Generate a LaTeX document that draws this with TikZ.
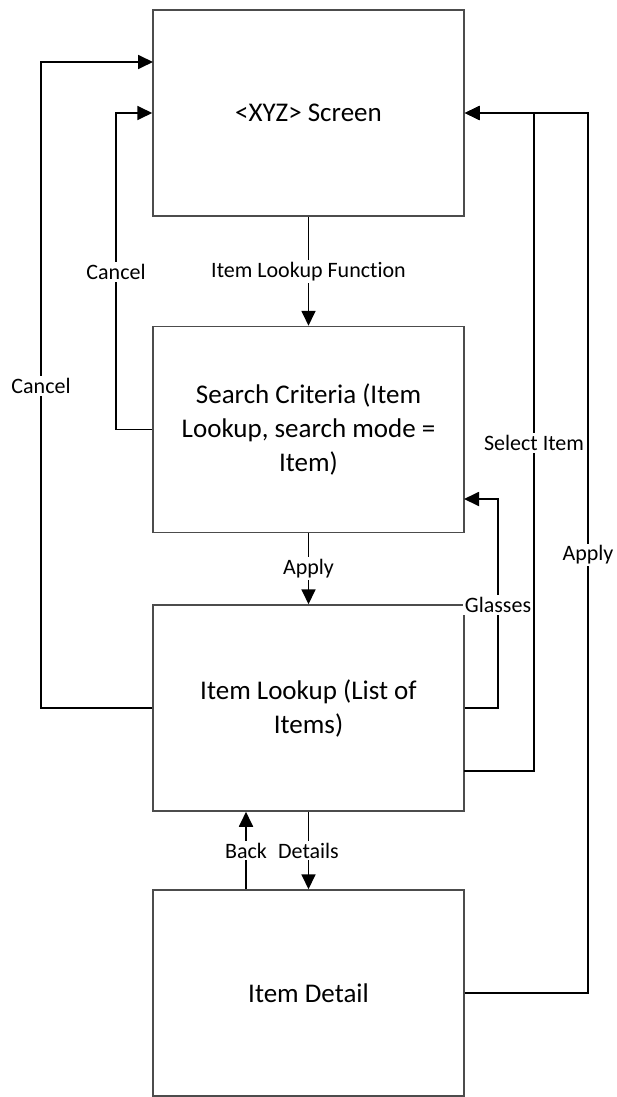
\documentclass[tikz,border=0pt]{standalone}
\usepackage{fontspec}
\setmainfont{Carlito}[Ligatures=NoCommon]
\usetikzlibrary{arrows.meta}

\tikzset{
  box/.style={draw=black!70, line width=1.5pt, fill=white, minimum width=311pt,
    minimum height=206pt, align=center, inner sep=0pt,
    font=\fontsize{27}{34}\selectfont},
  flow/.style={line width=1.8pt, -{Triangle[length=15pt,width=14pt]}},
  lbl/.style={fill=white, inner sep=2pt, font=\fontsize{22}{26}\selectfont},
}

\begin{document}
\begin{tikzpicture}[x=1pt, y=-1pt]
  \useasboundingbox (0,0) rectangle (616,1097);

  % 方框
  \node[box] (scr)  at (308.5,113)   {<XYZ> Screen};
  \node[box] (srch) at (308.5,429.5) {Search Criteria (Item\\Lookup, search mode =\\Item)};
  \node[box] (lkp)  at (308.5,708)   {Item Lookup (List of\\Items)};
  \node[box] (det)  at (308.5,993)   {Item Detail};

  \coordinate (cin)    at (116,272);
  \coordinate (cout)   at (41,386);
  \coordinate (scrTop) at (153,62);
  \coordinate (srchIn) at (464,499);
  \coordinate (lkpOut) at (464,771);
  \coordinate (glass)  at (498,605);
  \coordinate (sel)    at (534,443);
  \coordinate (apr)    at (588,555);
  \coordinate (back)   at (246,0);

  % 连线
  \draw[flow] (scr.south) -- node[lbl]{Item Lookup Function} (srch.north);
  \draw[flow] (srch.south) -- node[lbl]{Apply} (lkp.north);
  \draw[flow] (lkp.south) -- node[lbl]{Details} (det.north);
  \draw[flow] (det.north -| back) -- node[lbl]{Back} (lkp.south -| back);

  \draw[flow] (srch.west) -| (cin) node[lbl]{Cancel} |- (scr.west);
  \draw[flow] (lkp.west) -| (cout) node[lbl]{Cancel} |- (scrTop);

  \draw[flow] (det.east) -| (apr) node[lbl]{Apply} |- (scr.east);
  \draw[flow] (lkpOut) -| (sel) node[lbl]{Select Item} |- (scr.east);
  \draw[flow] (lkp.east) -| (glass) node[lbl]{Glasses} |- (srchIn);
\end{tikzpicture}
\end{document}
